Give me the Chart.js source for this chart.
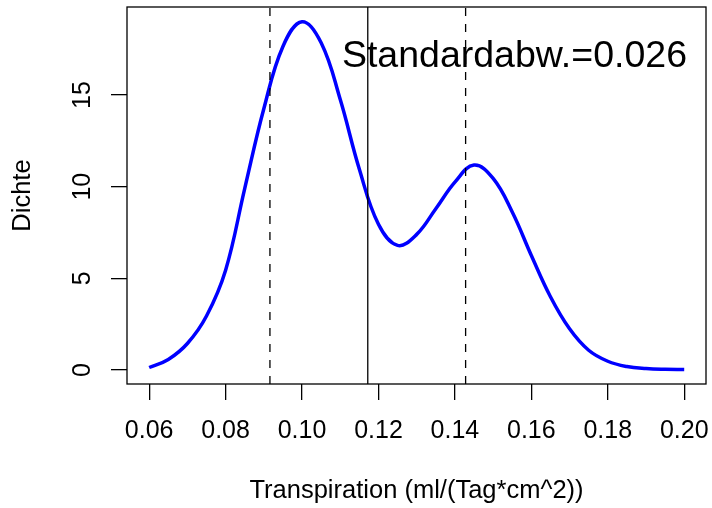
<!DOCTYPE html>
<html>
<head>
<meta charset="utf-8">
<script src="https://cdn.jsdelivr.net/npm/chart.js@4.4.0/dist/chart.umd.min.js"></script>
<style>
  html, body { margin: 0; padding: 0; background: #fff; }
  #wrap { width: 712px; height: 508px; }
</style>
</head>
<body>
<div id="wrap"><canvas id="densChart"></canvas></div>
<script>
// density curve
const densX = [0.060, 0.065, 0.070, 0.075, 0.080, 0.085, 0.090, 0.095, 0.100, 0.105,
               0.110, 0.115, 0.120, 0.125, 0.130, 0.135, 0.140, 0.145, 0.150, 0.155,
               0.160, 0.165, 0.170, 0.175, 0.180, 0.185, 0.190, 0.195, 0.200];
const densY = [0.14, 0.58, 1.45, 2.95, 5.45, 9.90, 14.25, 17.65, 19.00, 17.85,
               14.75, 10.95, 7.95, 6.80, 7.40, 8.80, 10.25, 11.18, 10.45, 8.62,
               6.25, 4.00, 2.25, 1.08, 0.48, 0.19, 0.08, 0.04, 0.03];

const meanVal = 0.1172;
const sdVal = 0.0256;

const xTicks = [0.06, 0.08, 0.10, 0.12, 0.14, 0.16, 0.18, 0.20];
const yTicks = [0, 5, 10, 15];

const xMin = 0.0542, xMax = 0.2057;
const yMin = -0.76, yMax = 19.8;

const FONT = "'Liberation Sans', Arial, sans-serif";

const vline = (x) => [{ x: x, y: yMin }, { x: x, y: yMax }];

// box, rotated y labels and the sd text
const extras = {
    id: 'extras',
    afterDraw(chart) {
        const ctx = chart.ctx;
        const a = chart.chartArea;
        const ys = chart.scales.y;
        ctx.save();
        ctx.strokeStyle = '#000';
        ctx.lineWidth = 1.3;
        ctx.strokeRect(a.left, a.top, a.right - a.left, a.bottom - a.top);

        ctx.fillStyle = '#000';
        ctx.font = '25px ' + FONT;
        ctx.textAlign = 'center';
        ctx.textBaseline = 'alphabetic';
        yTicks.forEach((v) => {
            const py = ys.getPixelForValue(v);
            ctx.save();
            ctx.translate(90, py);
            ctx.rotate(-Math.PI / 2);
            ctx.fillText(String(v), 0, 0);
            ctx.restore();
        });

        ctx.font = '37.5px ' + FONT;
        ctx.textAlign = 'right';
        ctx.fillText('Standardabw.=' + sdVal.toFixed(3), a.right - 19, a.top + 60);
        ctx.restore();
    }
};

const tickGrid = {
    drawOnChartArea: false,
    drawTicks: true,
    tickLength: 16,
    color: '#000',
    lineWidth: 1.3
};

new Chart(document.getElementById('densChart').getContext('2d'), {
    type: 'line',
    data: {
        datasets: [
            {
                data: densX.map((x, i) => ({ x: x, y: densY[i] })),
                borderColor: '#0000ff',
                borderWidth: 3.5,
                pointRadius: 0,
                tension: 0.4,
                order: 2
            },
            {
                data: vline(meanVal),
                borderColor: '#000',
                borderWidth: 1.3,
                pointRadius: 0,
                order: 1
            },
            {
                data: vline(meanVal - sdVal),
                borderColor: '#000',
                borderWidth: 1.3,
                borderDash: [8, 8],
                pointRadius: 0,
                order: 1
            },
            {
                data: vline(meanVal + sdVal),
                borderColor: '#000',
                borderWidth: 1.3,
                borderDash: [8, 8],
                pointRadius: 0,
                order: 1
            }
        ]
    },
    options: {
        responsive: true,
        maintainAspectRatio: false,
        animation: false,
        devicePixelRatio: 1,
        layout: { padding: { top: 7, right: 6, left: 0, bottom: 0 } },
        plugins: {
            legend: { display: false },
            tooltip: { enabled: false }
        },
        scales: {
            x: {
                type: 'linear',
                min: xMin,
                max: xMax,
                afterBuildTicks: (s) => { s.ticks = xTicks.map((v) => ({ value: v })); },
                afterFit: (s) => { s.height = 124; s.paddingLeft = 0; s.paddingRight = 0; },
                grid: tickGrid,
                border: { display: false },
                ticks: {
                    color: '#000',
                    font: { family: FONT, size: 25 },
                    padding: 16,
                    maxRotation: 0,
                    autoSkip: false,
                    callback: (v) => Number(v).toFixed(2)
                },
                title: {
                    display: true,
                    text: 'Transpiration (ml/(Tag*cm^2))',
                    color: '#000',
                    font: { family: FONT, size: 25.5 },
                    padding: { top: 0, bottom: 1.5 }
                }
            },
            y: {
                type: 'linear',
                min: yMin,
                max: yMax,
                afterBuildTicks: (s) => { s.ticks = yTicks.map((v) => ({ value: v })); },
                afterFit: (s) => { s.width = 127; s.paddingTop = 0; s.paddingBottom = 0; },
                grid: tickGrid,
                border: { display: false },
                ticks: { display: false },
                title: {
                    display: true,
                    text: 'Dichte',
                    color: '#000',
                    font: { family: FONT, size: 25.5 },
                    padding: { top: 7.5, bottom: 0 }
                }
            }
        }
    },
    plugins: [extras]
});
</script>
</body>
</html>
